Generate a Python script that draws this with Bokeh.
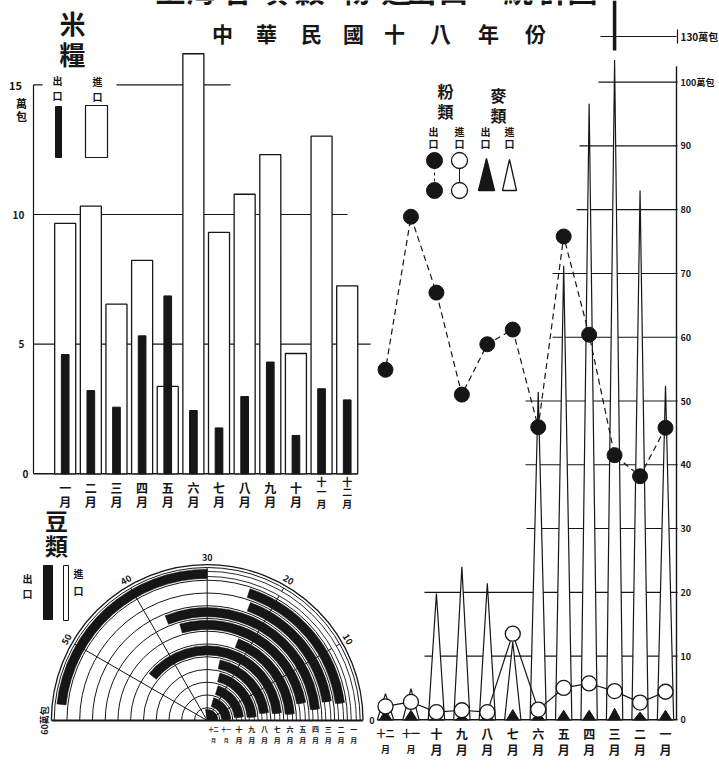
import math
from bokeh.plotting import figure
from bokeh.models import Range1d
from bokeh.embed import file_html
from bokeh.resources import INLINE
from bokeh.core.properties import value

# ---------------- DATA ----------------
month_nums = list(range(1, 13))
month_names = ["一", "二", "三", "四", "五", "六", "七", "八", "九", "十", "十一", "十二"]

# 米糧 (rice), 萬包, months 1..12
rice_import = [9.66, 10.32, 6.54, 8.23, 3.37, 16.2, 9.31, 10.78, 12.31, 4.64, 13.02, 7.25]
rice_export = [4.60, 3.21, 2.57, 5.32, 6.86, 2.44, 1.77, 2.98, 4.31, 1.48, 3.28, 2.85]
rice_ticks = [0, 5, 10, 15]

# 粉類 (flour) and 麥類 (wheat), 萬包, months 1..12
flour_export = [45.8, 38.2, 41.5, 60.4, 75.8, 45.9, 61.2, 58.9, 51.0, 67.0, 78.9, 54.9]
flour_import = [4.4, 2.7, 4.5, 5.7, 5.0, 1.6, 13.5, 1.2, 1.5, 1.2, 2.8, 2.1]
wheat_import = [52.4, 83.0, 130.0, 96.6, 71.2, 51.4, 12.2, 21.4, 24.0, 19.8, 4.9, 4.1]
wheat_export = [1.5, 1.2, 1.8, 1.5, 1.5, 1.2, 1.6, 0.8, 0.8, 0.5, 1.5, 1.5]
grain_ticks = [0, 10, 20, 30, 40, 50, 60, 70, 80, 90, 100]
grain_axis_top = 103.5

# 豆類 (beans), 萬包, months 1..12 (dial 0..60); import arc first, export arc follows it
bean_import = [30.0, 2.5, 3.0, 2.0, 3.5, 1.5, 2.0, 2.5, 1.5, 2.0, 1.0, 1.5]
bean_export = [27.9, 21.5, 20.3, 35.3, 31.8, 21.5, 45.0, 23.5, 23.5, 22.2, 23.7, 31.5]
bean_ticks = [0, 10, 20, 30, 40, 50, 60]

title_top = ["上", "海", "各", "項", "穀", "物", "進", "出", "口", "統", "計", "圖"]
title_sub = ["中", "華", "民", "國", "十", "八", "年", "份"]

# ---------------- LAYOUT ----------------
W, H = 719, 769
PX_L, PX_R, PX_T, PX_B = 0, 719, 0, 769
FONT = value("Noto Sans CJK TC")
INK = "#161616"


def xr(v_a, px_a, v_b, px_b):
    s = (v_b - v_a) / (px_b - px_a)
    return Range1d(start=v_a + (PX_L - px_a) * s, end=v_a + (PX_R - px_a) * s)


def yr(v_a, px_a, v_b, px_b):
    s = (v_b - v_a) / (px_b - px_a)
    return Range1d(start=v_a + (PX_B - px_a) * s, end=v_a + (PX_T - px_a) * s)


p = figure(width=W, height=H, x_range=Range1d(PX_L, PX_R), y_range=Range1d(PX_B, PX_T),
           output_backend="svg", toolbar_location=None, min_border=0,
           x_axis_location=None, y_axis_location=None, outline_line_color=None,
           background_fill_color="white", border_fill_color="white")
p.grid.grid_line_color = None

p.extra_x_ranges = {
    "rice_x": xr(1, 64.7, 12, 346.7),
    "grain_x": xr(12, 385.0, 1, 665.0),
    "bean_x": xr(0, 206.7, 1, 219.45),
}
p.extra_y_ranges = {
    "rice_y": yr(0, 473.3, 10, 214.0),
    "grain_y": yr(0, 719.3, 100, 81.7),
    "bean_y": yr(0, 720.0, 1, 707.25),
}


def txt(x, y, t, size, xn="default", yn="default", align="center", baseline="middle",
        angle=0.0, style="bold"):
    p.text(x=x, y=y, text=t, text_font=FONT, text_font_size=size, text_align=align,
           text_baseline=baseline, angle=angle, text_color=INK, text_font_style=style,
           x_range_name=xn, y_range_name=yn)


# ---------------- TITLES ----------------
txt([170, 200, 237, 272, 309, 355, 396, 421, 453, 518, 553, 582], [10] * 12, title_top,
    "30px", baseline="bottom")
txt([222, 266, 311, 353, 394, 440, 488, 535], [32] * 8, title_sub, "21px")
txt([72, 72], [22, 53], ["米", "糧"], "26px")
txt([56, 56], [519, 544], ["豆", "類"], "23px")

# ---------------- RICE CHART ----------------
rice_grid_x0 = {5: 33, 10: 33, 15: 116}
rice_grid_x1 = {5: 370, 10: 347, 15: 230}
for t in rice_ticks[1:]:
    p.segment(x0=[rice_grid_x0[t]], x1=[rice_grid_x1[t]], y0=[t], y1=[t], line_color=INK,
              line_width=1.2, y_range_name="rice_y")
p.segment(x0=[33], x1=[357], y0=[0], y1=[0], line_color=INK, line_width=1.4, y_range_name="rice_y")
p.segment(x0=[33], x1=[33], y0=[0], y1=[rice_ticks[-1]], line_color=INK, line_width=1.2,
          y_range_name="rice_y")
p.segment(x0=[33], x1=[42], y0=[rice_ticks[-1]], y1=[rice_ticks[-1]], line_color=INK,
          line_width=1.2, y_range_name="rice_y")
p.vbar(x=month_nums, width=0.82, top=rice_import, bottom=0, fill_color="white", line_color=INK,
       line_width=1.3, x_range_name="rice_x", y_range_name="rice_y")
p.vbar(x=month_nums, width=0.3, top=rice_export, bottom=0, fill_color=INK, line_color=INK,
       line_width=1, x_range_name="rice_x", y_range_name="rice_y")
txt([15, 21, 21], [85, 102, 115], ["15", "萬", "包"], "11px")
txt([18, 21, 25], [10, 5, 0], ["10", "5", "0"], "10px", yn="rice_y")
for m, name in zip(month_nums, month_names):
    chars = list(name) + ["月"]
    if len(chars) == 2:
        ys, fs = [487, 501], "12px"
    else:
        ys, fs = [481, 491, 503], "10px"
    txt([m] * len(chars), ys, chars, fs, xn="rice_x")
# rice legend
p.quad(left=[55], right=[61], top=[106], bottom=[157], fill_color=INK, line_color=INK)
p.quad(left=[85], right=[107], top=[105], bottom=[157], fill_color="white", line_color=INK,
       line_width=1.2)
txt([57, 57, 97, 97], [80, 95, 81, 96], ["出", "口", "進", "口"], "10px")

# ---------------- FLOUR / WHEAT CHART ----------------
grain_grid_x0 = {10: 424, 20: 424, 30: 526, 40: 525, 50: 525, 60: 552, 70: 552, 80: 576,
                 90: 579, 100: 598}
for t in grain_ticks[1:]:
    p.segment(x0=[grain_grid_x0[t]], x1=[677], y0=[t], y1=[t], line_color=INK, line_width=1.2,
              y_range_name="grain_y")
p.segment(x0=[377], x1=[677], y0=[0], y1=[0], line_color=INK, line_width=1.6,
          y_range_name="grain_y")
p.segment(x0=[676], x1=[676], y0=[0], y1=[grain_axis_top - 1], line_color=INK, line_width=1.4,
          y_range_name="grain_y")

# wheat import: white spikes (capped at axis top; break shown above)
xs, ys = [], []
for m, v in zip(month_nums, wheat_import):
    top = min(v, grain_axis_top)
    xs.append([m - 0.32, m, m + 0.32])
    ys.append([0, top, 0])
p.patches(xs=xs, ys=ys, fill_color="white", line_color=INK, line_width=1.2,
          x_range_name="grain_x", y_range_name="grain_y")
# wheat export: black triangles at base
xs, ys = [], []
for m, v in zip(month_nums, wheat_export):
    xs.append([m - 0.24, m, m + 0.24])
    ys.append([0, v, 0])
p.patches(xs=xs, ys=ys, fill_color=INK, line_color=INK, line_width=1,
          x_range_name="grain_x", y_range_name="grain_y")
# break marker for values above the axis
for m, v in zip(month_nums, wheat_import):
    if v > grain_axis_top:
        p.segment(x0=[m], x1=[m], y0=[PX_T], y1=[50], line_color=INK, line_width=3.5,
                  x_range_name="grain_x")
        p.segment(x0=[600], x1=[676], y0=[36], y1=[36], line_color=INK, line_width=1.2)
        p.segment(x0=[677], x1=[677], y0=[29], y1=[43], line_color=INK, line_width=1.2)
        txt([680], [36], [f"{int(v)}萬包"], "10px", align="left")

# flour import: white circles with solid line
p.line(x=month_nums, y=flour_import, line_color=INK, line_width=1.2,
       x_range_name="grain_x", y_range_name="grain_y")
p.scatter(x=month_nums, y=flour_import, size=15, marker="circle", fill_color="white",
          line_color=INK, line_width=1.3, x_range_name="grain_x", y_range_name="grain_y")
# flour export: black circles with dashed line
p.line(x=month_nums, y=flour_export, line_color=INK, line_width=1.2, line_dash="6 4",
       x_range_name="grain_x", y_range_name="grain_y")
p.scatter(x=month_nums, y=flour_export, size=15, marker="circle", fill_color=INK,
          line_color=INK, x_range_name="grain_x", y_range_name="grain_y")

labels = [f"{t}萬包" if t == 100 else str(t) for t in grain_ticks]
txt([680] * len(grain_ticks), grain_ticks, labels, "9px", yn="grain_y", align="left")
for m, name in zip(month_nums, month_names):
    txt([m, m], [733, 749], [name, "月"], "12px" if len(name) == 1 else "9px",
        xn="grain_x")

# grain legend
p.segment(x0=[434], x1=[434], y0=[160], y1=[190], line_color=INK, line_dash="3 3")
p.segment(x0=[459], x1=[459], y0=[160], y1=[190], line_color=INK)
p.scatter(x=[434, 434], y=[160, 190], size=16, fill_color=INK, line_color=INK)
p.scatter(x=[459, 459], y=[160, 190], size=16, fill_color="white", line_color=INK,
          line_width=1.3)
p.patches(xs=[[478, 486, 494], [502, 509, 516]], ys=[[190, 158, 190], [190, 159, 190]],
          fill_color=[INK, "white"], line_color=INK, line_width=1.3)
txt([445, 445, 498, 498], [90, 110, 94, 114], ["粉", "類", "麥", "類"], "16px")
txt([433, 433, 459, 459, 485, 485, 509, 509], [131, 143, 131, 143, 131, 143, 131, 143],
    ["出", "口", "進", "口", "出", "口", "進", "口"], "10px")

# ---------------- BEAN DIAL ----------------
n_rings = len(month_nums)
deg = math.pi / bean_ticks[-1]
for t in bean_ticks[1:-1]:
    a = t * deg
    p.segment(x0=[0], y0=[0], x1=[n_rings * math.cos(a)], y1=[n_rings * math.sin(a)],
              line_color=INK, line_width=1, x_range_name="bean_x", y_range_name="bean_y")
p.arc(x=[0] * n_rings, y=[0] * n_rings, radius=[k for k in range(1, n_rings + 1)],
      start_angle=0, end_angle=math.pi, line_color=INK, line_width=1,
      x_range_name="bean_x", y_range_name="bean_y")
p.arc(x=[0], y=[0], radius=[n_rings + 0.22], start_angle=0, end_angle=math.pi,
      line_color=INK, line_width=1.3, x_range_name="bean_x", y_range_name="bean_y")
for i, m in enumerate(month_nums):
    k = n_rings - i  # ring index: 一月 outermost
    a_imp = bean_import[i] * deg
    a_tot = (bean_import[i] + bean_export[i]) * deg
    p.annular_wedge(x=[0], y=[0], inner_radius=[(k - 1) + 0.3], outer_radius=[k - 0.3],
                    start_angle=[0], end_angle=[a_imp], fill_color="white",
                    line_color=INK, line_width=0.9, x_range_name="bean_x", y_range_name="bean_y")
    p.annular_wedge(x=[0], y=[0], inner_radius=[(k - 1) + 0.14], outer_radius=[k - 0.14],
                    start_angle=[a_imp], end_angle=[a_tot], fill_color=INK,
                    line_color=INK, line_width=0.5, x_range_name="bean_x", y_range_name="bean_y")
p.segment(x0=[-n_rings - 0.2], x1=[n_rings + 0.2], y0=[0], y1=[0], line_color=INK,
          line_width=2, x_range_name="bean_x", y_range_name="bean_y")
for t in bean_ticks:
    a = t * deg
    r = n_rings + 0.75
    lab = f"{t}萬包" if t == bean_ticks[-1] else str(t)
    if t == 0:
        txt([n_rings + 0.7], [0], ["0"], "9px", xn="bean_x", yn="bean_y", align="left")
    else:
        txt([r * math.cos(a)], [r * math.sin(a)], [lab], "9px", xn="bean_x", yn="bean_y",
            angle=a - math.pi / 2)
for i, m in enumerate(month_nums):
    k = n_rings - i
    txt([k - 0.5, k - 0.5], [728, 739], [month_names[i], "月"],
        "7px" if len(month_names[i]) == 1 else "5px", xn="bean_x")
# bean legend
p.quad(left=[43], right=[52], top=[565], bottom=[619], fill_color=INK, line_color=INK)
p.quad(left=[63], right=[68], top=[565], bottom=[620], fill_color="white", line_color=INK)
txt([27, 27, 78, 78], [578, 593, 573, 590], ["出", "口", "進", "口"], "10px")

open("out.html", "w").write(file_html(p, INLINE))
